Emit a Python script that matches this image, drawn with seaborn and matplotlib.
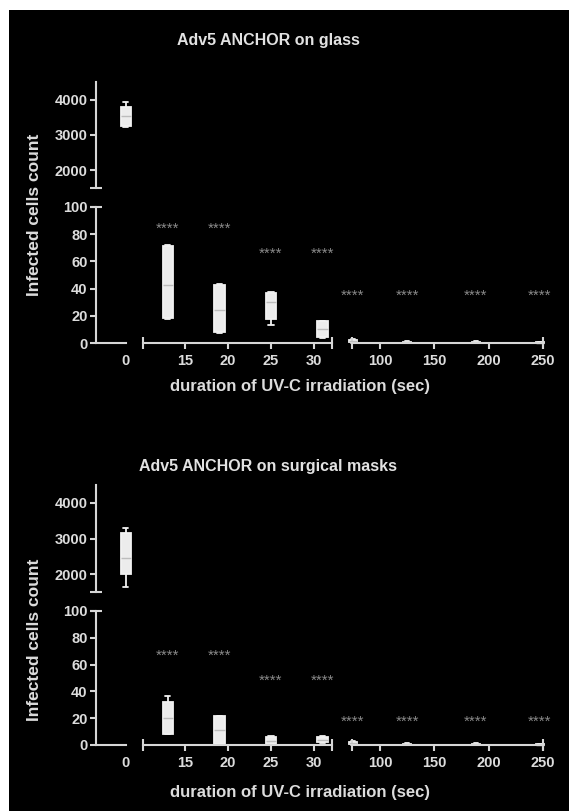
import numpy as np
import pandas as pd
import matplotlib
matplotlib.use("Agg")
import matplotlib.pyplot as plt
import seaborn as sns
from matplotlib.patches import Rectangle

# 1. Datos
# cada caja = 5 valores: mínimo, q1, mediana, q3, máximo
tiempo_0 = [0]
tiempos_cortos = [13, 19, 25, 31]
tiempos_largos = [75, 125, 188, 247]

vidrio_0 = [[3240, 3250, 3550, 3800, 3940]]
vidrio_cortos = [[18, 18.5, 43, 71, 72],
                 [7.5, 8, 24, 43, 43.5],
                 [13.5, 17.6, 30, 37, 37.5],
                 [4, 4.5, 10, 16, 16.5]]
vidrio_largos = [[0, 0.5, 1.5, 2.5, 3],
                 [0, 0.3, 0.6, 0.9, 1.2],
                 [0, 0.3, 0.6, 0.9, 1.2],
                 [0, 0.1, 0.3, 0.5, 0.8]]
estrellas_vidrio_cortos = [87, 87, 68, 68]
estrellas_vidrio_largos = [37.5, 37.5, 37.5, 37.5]

mascara_0 = [[1650, 2000, 2450, 3160, 3300]]
mascara_cortos = [[8, 8.2, 20, 32, 36.5],
                  [0, 0.5, 11, 21.6, 22],
                  [0, 0.5, 3, 6, 6.5],
                  [1.5, 2, 4, 6, 6.5]]
mascara_largos = [[0, 0.5, 1.5, 2.5, 3],
                  [0, 0.3, 0.6, 0.9, 1.2],
                  [0, 0.3, 0.6, 0.9, 1.2],
                  [0, 0.1, 0.3, 0.5, 0.8]]
estrellas_mascara_cortos = [69, 69, 51, 51]
estrellas_mascara_largos = [20, 20, 20, 20]

ticks_y_arriba = [2000, 3000, 4000]
ticks_y_abajo = [0, 20, 40, 60, 80, 100]
ticks_x_cortos = [15, 20, 25, 30]
ticks_x_largos = [100, 150, 200, 250]

# 2. Estilo
sns.set_theme(style="ticks")
plt.rcParams["font.family"] = ["Liberation Sans", "DejaVu Sans"]
plt.rcParams["font.weight"] = "bold"

W, H = 569, 811
GRIS = "#d6d6d6"
LW = 1.5


def caja_px(x0, y0, x1, y1):
    # pasar de pixeles (desde arriba) a coordenadas de figura
    return [x0 / W, 1 - y1 / H, (x1 - x0) / W, (y1 - y0) / H]


def cajas(ax, tiempos, valores, ancho):
    df = pd.DataFrame([(t, v) for t, vals in zip(tiempos, valores) for v in vals],
                      columns=["t", "n"])
    sns.boxplot(data=df, x="t", y="n", native_scale=True, whis=(0, 100), width=ancho,
                color="#ececec", linecolor="#f2f2f2", linewidth=1.3, fliersize=0,
                medianprops=dict(color="#bcbcbc", linewidth=1), ax=ax)
    for art in ax.patches + ax.lines:
        art.set_clip_on(False)
    ax.set_xlabel("")
    ax.set_ylabel("")


def estilo_eje(ax, izq=False, abajo=False):
    ax.set_facecolor("none")
    for lado in ["top", "right", "left", "bottom"]:
        ax.spines[lado].set_visible(False)
    if izq:
        ax.spines["left"].set_visible(True)
        ax.spines["left"].set_color(GRIS)
        ax.spines["left"].set_linewidth(LW)
    if abajo:
        ax.spines["bottom"].set_visible(True)
        ax.spines["bottom"].set_color(GRIS)
        ax.spines["bottom"].set_linewidth(LW)
    ax.tick_params(colors=GRIS, labelcolor="#dcdcdc", labelsize=10.5, width=LW, length=4,
                   left=izq, labelleft=izq, bottom=abajo, labelbottom=abajo, pad=2)
    ax.grid(False)


def estrellas(ax, xs, ys):
    # el asterisco queda alto en la linea, lo bajo un poco para centrarlo
    for x, y in zip(xs, ys):
        ax.annotate("****", (x, y), xytext=(0, -5.5), textcoords="offset points",
                    ha="center", va="baseline", color="#8a8a8a",
                    fontsize=11, fontweight="normal", annotation_clip=False)


def panel(fig, y_arr, y_med, y_abj, titulo, y_titulo, y_xlabel, y_ylabel,
          d0, dc, dl, ec, el):
    # segmento superior (1500-4500)
    ax_a = fig.add_axes(caja_px(96, y_arr, 136, y_med))
    cajas(ax_a, tiempo_0, d0, 1.0)
    ax_a.set_xlim(-2.95, 1.05)
    ax_a.set_ylim(1500, 4500)
    ax_a.set_yticks(ticks_y_arriba)
    estilo_eje(ax_a, izq=True)
    ax_a.plot([0], [0], marker="_", ms=8, mew=LW, color=GRIS, transform=ax_a.transAxes, clip_on=False)

    y_b0 = y_med + 19
    # segmento inferior, columna 0
    ax_0 = fig.add_axes(caja_px(96, y_b0, 126, y_abj))
    ax_0.set_xlim(-2.95, 0.05)
    ax_0.set_ylim(0, 100)
    ax_0.set_yticks(ticks_y_abajo)
    ax_0.set_xticks(tiempo_0)
    estilo_eje(ax_0, izq=True, abajo=True)
    ax_0.tick_params(axis="x", length=0, pad=8)
    ax_0.plot([0], [1], marker="_", ms=8, mew=LW, color=GRIS, transform=ax_0.transAxes, clip_on=False)

    # columna 1 (13-31 s)
    ax_1 = fig.add_axes(caja_px(143, y_b0, 332, y_abj))
    cajas(ax_1, tiempos_cortos, dc, 0.2)
    ax_1.set_xlim(10.1, 32.1)
    ax_1.set_ylim(0, 100)
    ax_1.set_xticks(ticks_x_cortos)
    estilo_eje(ax_1, abajo=True)
    ax_1.tick_params(axis="x", length=4, pad=4)
    estrellas(ax_1, tiempos_cortos, ec)
    ax_1.plot([0, 1], [0, 0], ls="none", marker="|", ms=8, mew=LW, color=GRIS,
              transform=ax_1.transAxes, clip_on=False)

    # columna 2 (75-250 s)
    ax_2 = fig.add_axes(caja_px(352, y_b0, 543, y_abj))
    cajas(ax_2, tiempos_largos, dl, 0.15)
    ax_2.set_xlim(74.2, 250)
    ax_2.set_ylim(0, 100)
    ax_2.set_xticks(ticks_x_largos)
    estilo_eje(ax_2, abajo=True)
    ax_2.tick_params(axis="x", length=4, pad=4)
    estrellas(ax_2, tiempos_largos, el)
    ax_2.plot([0, 1], [0, 0], ls="none", marker="|", ms=8, mew=LW, color=GRIS,
              transform=ax_2.transAxes, clip_on=False)

    fig.text(268 / W, 1 - y_titulo / H, titulo, ha="center", va="center",
             color="#e2e2e2", fontsize=11.5, fontweight="bold")
    fig.text(300 / W, 1 - y_xlabel / H, "duration of UV-C irradiation (sec)", ha="center",
             va="center", color="#dcdcdc", fontsize=12, fontweight="bold")
    fig.text(35 / W, 1 - y_ylabel / H, "Infected cells count", ha="center", va="center",
             rotation=90, color="#dcdcdc", fontsize=12.5, fontweight="bold")


fig = plt.figure(figsize=(W / 100, H / 100), dpi=100)
fig.patch.set_facecolor("white")
fig.patches.append(Rectangle((9 / W, 0), 1, 1 - 10 / H, transform=fig.transFigure,
                             facecolor="black", edgecolor="none", zorder=-10))

panel(fig, 82, 188, 343, "Adv5 ANCHOR on glass", 40, 386, 215,
      vidrio_0, vidrio_cortos, vidrio_largos,
      estrellas_vidrio_cortos, estrellas_vidrio_largos)
panel(fig, 485, 592, 745, "Adv5 ANCHOR on surgical masks", 467, 793, 640,
      mascara_0, mascara_cortos, mascara_largos,
      estrellas_mascara_cortos, estrellas_mascara_largos)

fig.savefig("out.png", dpi=100, facecolor=fig.get_facecolor())
